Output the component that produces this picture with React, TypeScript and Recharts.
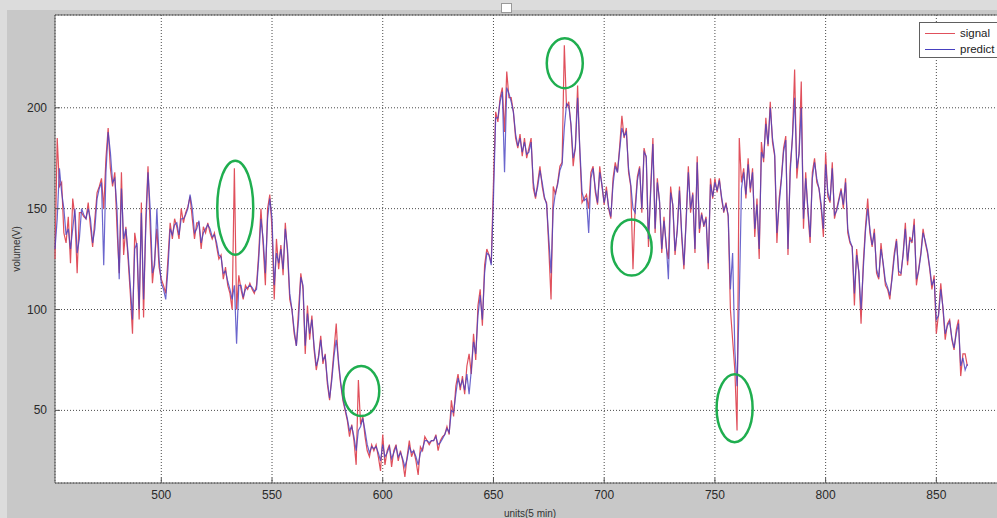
import React from "react";
import { LineChart, Line, XAxis, YAxis, CartesianGrid, Legend, ReferenceDot, ReferenceArea } from "recharts";

// first sample is at unit 452, one sample per unit (5 min)
const startUnit = 452;

const signal = [
  125, 185, 161, 163, 138, 133, 146, 123, 155, 146, // 452
  118, 148, 148, 146, 145, 153, 141, 131, 145, 158, // 462
  161, 165, 150, 175, 190, 170, 161, 168, 140, 118, // 472
  168, 127, 141, 125, 108, 88, 138, 131, 95, 153, // 482
  96, 145, 171, 140, 113, 125, 140, 121, 115, 112, // 492
  108, 125, 143, 135, 145, 141, 135, 150, 143, 148, // 502
  151, 156, 145, 135, 143, 143, 130, 141, 138, 143, // 512
  138, 135, 138, 131, 125, 127, 115, 121, 112, 108, // 522
  100, 170, 100, 117, 110, 105, 112, 110, 113, 110, // 532
  108, 112, 128, 150, 132, 112, 150, 157, 140, 105, // 542
  135, 120, 132, 117, 143, 128, 105, 100, 88, 82, // 552
  100, 118, 110, 78, 102, 85, 97, 80, 70, 77, // 562
  87, 73, 78, 63, 55, 67, 80, 93, 73, 63, // 572
  55, 50, 45, 37, 43, 35, 23, 65, 43, 47, // 582
  37, 30, 27, 33, 30, 33, 27, 20, 38, 23, // 592
  30, 33, 22, 30, 33, 25, 30, 25, 17, 27, // 602
  35, 27, 30, 25, 18, 32, 30, 37, 35, 33, // 612
  35, 35, 38, 30, 35, 37, 38, 42, 38, 55, // 622
  47, 62, 68, 60, 67, 58, 72, 78, 68, 88, // 632
  75, 102, 110, 92, 122, 130, 127, 123, 163, 198, // 642
  193, 205, 210, 188, 218, 205, 205, 198, 185, 180, // 652
  187, 176, 185, 175, 180, 185, 160, 155, 163, 171, // 662
  161, 155, 153, 130, 105, 161, 157, 163, 171, 173, // 672
  231, 200, 203, 191, 171, 181, 211, 178, 153, 155, // 682
  157, 150, 168, 171, 158, 152, 171, 161, 152, 161, // 692
  150, 145, 165, 173, 168, 181, 196, 185, 190, 168, // 702
  161, 120, 151, 166, 171, 148, 180, 175, 131, 161, // 712
  185, 138, 165, 153, 128, 146, 131, 125, 161, 151, // 722
  127, 140, 161, 136, 120, 145, 171, 148, 158, 128, // 732
  176, 138, 148, 141, 146, 120, 165, 155, 165, 158, // 742
  165, 155, 148, 153, 146, 100, 85, 70, 40, 185, // 752
  163, 170, 155, 175, 158, 170, 136, 155, 125, 183, // 762
  173, 195, 181, 203, 183, 176, 133, 155, 165, 180, // 772
  186, 127, 171, 185, 219, 165, 178, 213, 140, 168, // 782
  148, 133, 168, 175, 163, 160, 150, 136, 178, 156, // 792
  153, 173, 145, 150, 155, 160, 150, 165, 138, 133, // 802
  131, 102, 130, 118, 93, 123, 141, 155, 138, 131, // 812
  140, 118, 115, 133, 122, 112, 110, 105, 117, 128, // 822
  135, 117, 117, 128, 143, 122, 136, 133, 145, 112, // 832
  120, 128, 140, 133, 128, 120, 110, 117, 88, 98, // 842
  113, 100, 85, 93, 95, 85, 80, 90, 95, 67, // 852
  78, 78, 72, // 862
];

const predict = [
  130, 145, 170, 158, 150, 137, 140, 130, 140, 150, // 452
  128, 135, 150, 147, 145, 150, 145, 133, 140, 155, // 462
  160, 163, 122, 168, 188, 178, 163, 165, 150, 115, // 472
  160, 135, 140, 128, 112, 95, 130, 133, 100, 148, // 482
  105, 140, 168, 150, 118, 122, 150, 125, 113, 110, // 492
  105, 120, 140, 137, 142, 143, 137, 145, 145, 147, // 502
  150, 157, 150, 138, 140, 144, 133, 138, 140, 142, // 512
  140, 136, 137, 133, 127, 126, 118, 119, 114, 110, // 522
  105, 112, 83, 112, 112, 106, 110, 111, 112, 111, // 532
  109, 110, 125, 145, 135, 118, 145, 155, 145, 112, // 542
  128, 123, 130, 120, 140, 130, 108, 100, 90, 82, // 552
  95, 116, 112, 82, 98, 88, 95, 82, 72, 76, // 562
  85, 75, 77, 65, 56, 65, 77, 85, 75, 64, // 572
  56, 51, 46, 40, 42, 37, 30, 40, 42, 46, // 582
  40, 33, 29, 32, 31, 32, 29, 25, 33, 27, // 592
  29, 32, 26, 29, 32, 27, 29, 26, 22, 26, // 602
  32, 29, 30, 27, 23, 29, 31, 35, 35, 34, // 612
  35, 35, 37, 33, 34, 36, 38, 41, 39, 50, // 622
  49, 58, 66, 62, 65, 60, 68, 58, 70, 84, // 632
  78, 97, 107, 95, 118, 128, 127, 122, 155, 195, // 642
  195, 203, 208, 168, 210, 207, 203, 198, 187, 181, // 652
  185, 178, 183, 177, 178, 183, 163, 156, 161, 169, // 662
  163, 156, 152, 135, 118, 150, 158, 162, 169, 172, // 672
  190, 202, 201, 192, 175, 180, 205, 180, 158, 154, // 682
  155, 138, 165, 170, 160, 153, 168, 162, 153, 159, // 692
  151, 146, 162, 171, 168, 179, 190, 186, 188, 170, // 702
  162, 150, 148, 164, 170, 150, 178, 176, 135, 158, // 712
  182, 140, 163, 154, 130, 144, 133, 115, 158, 152, // 722
  129, 139, 159, 138, 122, 143, 168, 150, 157, 130, // 732
  173, 140, 147, 142, 145, 123, 162, 156, 163, 159, // 742
  164, 156, 149, 152, 147, 110, 128, 80, 62, 105, // 752
  160, 168, 157, 172, 160, 168, 140, 152, 130, 178, // 762
  175, 192, 182, 200, 185, 177, 138, 152, 164, 178, // 772
  184, 130, 168, 185, 205, 170, 177, 200, 145, 165, // 782
  150, 136, 165, 173, 165, 160, 152, 140, 172, 158, // 792
  154, 170, 147, 149, 154, 159, 152, 163, 140, 134, // 802
  131, 108, 127, 119, 100, 120, 139, 150, 140, 132, // 812
  138, 120, 116, 130, 123, 114, 111, 107, 115, 126, // 822
  134, 119, 118, 127, 140, 124, 134, 134, 142, 115, // 832
  119, 127, 138, 134, 129, 121, 112, 115, 95, 97, // 842
  110, 101, 88, 92, 94, 86, 81, 88, 93, 72, // 852
  76, 70, 73, // 862
];

const seriesOrder = ["signal", "predict"];
const xTicks = [500, 550, 600, 650, 700, 750, 800, 850];
const yTicks = [50, 100, 150, 200];

// circled anomalies (centre in data units)
const anomalyUnits = [533.4, 590.3, 682.2, 712.4, 758.9];
const anomalyValues = [150.5, 59.6, 222.1, 130.7, 51.1];

const ringRadii = [
  [18, 47],
  [18, 25],
  [18, 25],
  [20, 28],
  [18, 34],
];

const data = signal.map((s, i) => ({ unit: startUnit + i, signal: s, predict: predict[i] }));

const font = '"Liberation Sans", Arial, sans-serif';
const tickFont = { fontFamily: font, fontSize: 12, fill: "#2a2a2a" };

function XTick(props: any) {
  const { x, y, payload } = props;
  return (
    <g>
      <line x1={x} x2={x} y1={y - 7} y2={y - 12} stroke="#555" />
      <text x={x} y={y} textAnchor="middle" dominantBaseline="hanging" {...tickFont}>
        {payload.value}
      </text>
    </g>
  );
}

function YTick(props: any) {
  const { x, y, payload } = props;
  return (
    <g>
      <line x1={x + 8} x2={x + 13} y1={y} y2={y} stroke="#555" />
      <text x={x} y={y} textAnchor="end" dominantBaseline="central" {...tickFont}>
        {payload.value}
      </text>
    </g>
  );
}

function LegendBox(props: any) {
  const payload = [...(props.payload || [])].sort(
    (a: any, b: any) => seriesOrder.indexOf(a.value) - seriesOrder.indexOf(b.value)
  );
  return (
    <div
      style={{
        border: "1px solid #606060",
        background: "#fff",
        padding: "2px 40px 0 5px",
        fontFamily: font,
        fontSize: 11.5,
        color: "#222",
      }}
    >
      {payload.map((p: any) => (
        <div key={p.value} style={{ display: "flex", alignItems: "center", height: 16 }}>
          <span style={{ display: "inline-block", width: 30, borderTop: `1px solid ${p.payload?.stroke || p.color}`, marginRight: 5 }} />
          {p.value}
        </div>
      ))}
    </div>
  );
}

export default function App() {
  return (
    <div style={{ position: "fixed", left: 0, top: 0, width: 997, height: 518, overflow: "hidden", background: "#dcdcdc" }}>
      <div style={{ position: "absolute", left: 7, top: 10, right: 0, bottom: 0, background: "#c8c8c8" }} />
      <div style={{ position: "absolute", left: 501, top: 3, width: 9, height: 8, background: "#fff", border: "1px solid #999" }} />
      <div style={{ position: "absolute", left: 0, top: 0 }}>
        <LineChart width={1030} height={518} data={data} margin={{ top: 15, right: 25, bottom: 0, left: 0 }}>
          <CartesianGrid fill="#fff" stroke="#4a4a4a" strokeDasharray="1 2" />
          <XAxis
            dataKey="unit"
            type="number"
            domain={[452, 881]}
            ticks={xTicks}
            height={35}
            axisLine={false}
            tickLine={false}
            tickSize={0}
            tickMargin={7}
            tick={<XTick />}
            label={{ value: "units(5 min)", position: "insideBottom", offset: 1, style: { fontFamily: font, fontSize: 10, fill: "#333" } }}
          />
          <YAxis
            type="number"
            domain={[14, 246]}
            ticks={yTicks}
            width={55}
            axisLine={false}
            tickLine={false}
            tickSize={0}
            tickMargin={8}
            tick={<YTick />}
            label={{ value: "volume(V)", angle: -90, position: "insideLeft", offset: 16, style: { textAnchor: "middle", fontFamily: font, fontSize: 10, fill: "#333" } }}
          />
          <ReferenceArea x1={452} x2={881} y1={14} y2={246} fill="none" stroke="#5f5f5f" ifOverflow="visible" />
          <Line type="linear" dataKey="signal" name="signal" stroke="#e0505c" strokeWidth={1.2} dot={false} isAnimationActive={false} />
          <Line type="linear" dataKey="predict" name="predict" stroke="#4640c0" strokeWidth={1.2} strokeOpacity={0.8} dot={false} isAnimationActive={false} />
          {anomalyUnits.map((u, i) => (
            <ReferenceDot
              key={u}
              x={u}
              y={anomalyValues[i]}
              ifOverflow="visible"
              shape={(p: any) => (
                <ellipse cx={p.cx} cy={p.cy} rx={ringRadii[i][0]} ry={ringRadii[i][1]} fill="none" stroke="#1fae4f" strokeWidth={2.5} />
              )}
            />
          ))}
          <Legend
            layout="vertical"
            verticalAlign="middle"
            align="center"
            content={<LegendBox />}
            wrapperStyle={{ position: "absolute", left: 919, top: 22, width: "auto" }}
          />
        </LineChart>
      </div>
    </div>
  );
}
